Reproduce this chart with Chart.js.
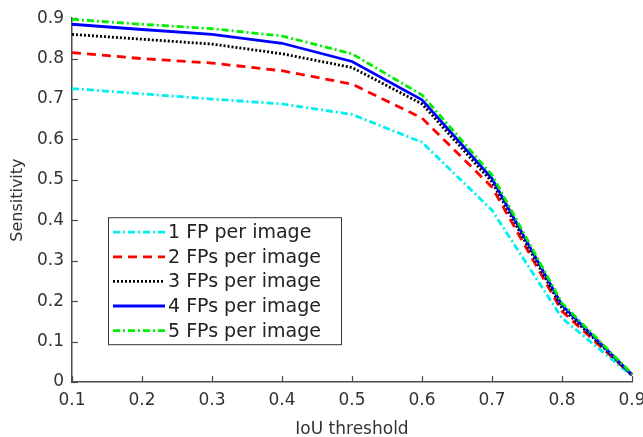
<!DOCTYPE html>
<html><head><meta charset="utf-8">
<script src="https://cdn.jsdelivr.net/npm/chart.js@4/dist/chart.umd.min.js"></script>
<style>
html,body{margin:0;padding:0;background:#fff;overflow:hidden;width:643px;height:437px}
#wrap{width:664px;height:437px;position:relative}
</style></head>
<body><div id="wrap"><canvas id="c" width="664" height="437"></canvas></div>
<script>
const iouThresholds = [0.1, 0.2, 0.3, 0.4, 0.5, 0.6, 0.7, 0.8, 0.9];
const fp1 = [0.726, 0.713, 0.700, 0.688, 0.662, 0.593, 0.425, 0.158, 0.015];
const fp2 = [0.815, 0.800, 0.789, 0.770, 0.737, 0.653, 0.482, 0.175, 0.017];
const fp3 = [0.860, 0.848, 0.836, 0.812, 0.778, 0.688, 0.495, 0.183, 0.018];
const fp4 = [0.885, 0.872, 0.860, 0.838, 0.793, 0.698, 0.503, 0.190, 0.018];
const fp5 = [0.897, 0.885, 0.874, 0.856, 0.812, 0.710, 0.512, 0.195, 0.020];
const seriesNames = ['1 FP per image', '2 FPs per image', '3 FPs per image', '4 FPs per image', '5 FPs per image'];
const xTickLabels = ['0.1', '0.2', '0.3', '0.4', '0.5', '0.6', '0.7', '0.8', '0.9'];
const yTickLabels = ['0', '0.1', '0.2', '0.3', '0.4', '0.5', '0.6', '0.7', '0.8', '0.9'];

const seriesValues = [fp1, fp2, fp3, fp4, fp5];
const styles = [
  {color: '#00f0f0', dash: [7, 3, 2, 3]},
  {color: '#ff0000', dash: [9, 6]},
  {color: '#000000', dash: [2, 2]},
  {color: '#0000ff', dash: []},
  {color: '#00ee00', dash: [7, 3, 2, 3]}
];
const FONT = 'DejaVu Sans';
const AXIS = '#4d4d4d';

const datasets = seriesValues.map((vals, i) => ({
  label: seriesNames[i],
  data: iouThresholds.map((x, j) => ({x: x, y: vals[j]})),
  borderColor: styles[i].color,
  borderDash: styles[i].dash,
  borderWidth: 2.8,
  pointRadius: 0,
  tension: 0,
  fill: false,
  order: 5 - i,
  clip: false
}));

const tickMarks = {
  id: 'tickMarks',
  beforeDatasetsDraw(chart) {
    const {ctx, chartArea: a, scales: {x, y}} = chart;
    ctx.save();
    ctx.strokeStyle = AXIS;
    ctx.lineWidth = 1.2;
    x.ticks.forEach(t => {
      const px = Math.round(x.getPixelForValue(t.value)) + 0.5;
      ctx.beginPath(); ctx.moveTo(px, a.bottom); ctx.lineTo(px, a.bottom - 6); ctx.stroke();
    });
    y.ticks.forEach(t => {
      const py = Math.round(y.getPixelForValue(t.value)) + 0.5;
      ctx.beginPath(); ctx.moveTo(a.left, py); ctx.lineTo(a.left + 6, py); ctx.stroke();
    });
    ctx.restore();
  }
};

const boxLegend = {
  id: 'boxLegend',
  afterDraw(chart) {
    const {ctx, chartArea: a} = chart;
    const left = a.left + 36, top = a.top + 199, w = 233, h = 127, row = 24.6;
    ctx.save();
    ctx.fillStyle = '#fff';
    ctx.fillRect(left, top, w, h);
    ctx.strokeStyle = '#333';
    ctx.lineWidth = 1;
    ctx.strokeRect(left + 0.5, top + 0.5, w, h);
    ctx.font = '19px "' + FONT + '"';
    ctx.textBaseline = 'middle';
    chart.data.datasets.forEach((ds, i) => {
      const cy = top + 15 + i * row;
      ctx.strokeStyle = ds.borderColor;
      ctx.lineWidth = ds.borderWidth;
      ctx.setLineDash(ds.borderDash);
      ctx.beginPath(); ctx.moveTo(left + 5, cy); ctx.lineTo(left + 57, cy); ctx.stroke();
      ctx.setLineDash([]);
      ctx.fillStyle = '#222';
      ctx.fillText(ds.label, left + 60, cy + 1);
    });
    ctx.restore();
  }
};

new Chart(document.getElementById('c'), {
  type: 'line',
  data: {datasets: datasets},
  plugins: [tickMarks, boxLegend],
  options: {
    responsive: false,
    animation: false,
    devicePixelRatio: 1,
    layout: {padding: {top: 18, right: 32, bottom: 0, left: 0}},
    plugins: {legend: {display: false}, tooltip: {enabled: false}},
    scales: {
      x: {
        type: 'linear', min: 0.1, max: 0.9,
        afterFit: s => { s.height = 55; },
        afterBuildTicks: s => { s.ticks = iouThresholds.map(v => ({value: v})); },
        ticks: {
          callback: (v, i) => xTickLabels[i],
          color: '#333', padding: 8, maxRotation: 0, autoSkip: false,
          font: {family: FONT, size: 17}
        },
        grid: {display: false, drawTicks: false},
        border: {display: true, color: AXIS, width: 1.5},
        title: {display: true, text: 'IoU threshold', color: '#333',
          font: {family: FONT, size: 17}, padding: {top: 0, bottom: -3}}
      },
      y: {
        type: 'linear', min: 0, max: 0.9,
        afterFit: s => { s.width = 72; },
        afterBuildTicks: s => { s.ticks = yTickLabels.map(l => ({value: parseFloat(l)})); },
        ticks: {
          callback: (v, i) => yTickLabels[i],
          color: '#333', padding: 8, autoSkip: false,
          font: {family: FONT, size: 17}
        },
        grid: {display: false, drawTicks: false},
        border: {display: true, color: AXIS, width: 1.5},
        title: {display: true, text: 'Sensitivity', color: '#333',
          font: {family: FONT, size: 16}, padding: {top: 8, bottom: 0}}
      }
    }
  }
});
</script>
</body></html>
